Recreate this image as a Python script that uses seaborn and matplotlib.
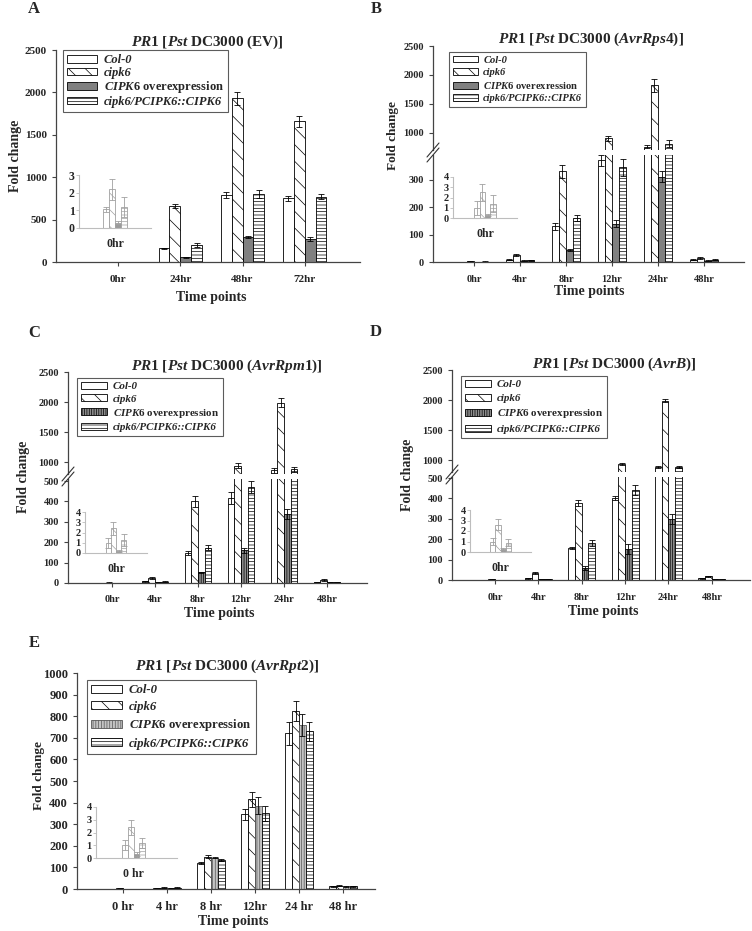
import pandas as pd
import matplotlib
matplotlib.use("Agg")
import matplotlib.pyplot as plt
from matplotlib.patches import Patch
from matplotlib.lines import Line2D
import seaborn as sns

# ---- data ----
lines = ["Col-0", "cipk6", "CIPK6 overexpression", "cipk6/PCIPK6::CIPK6"]
lines_b = ["Col-0", "cipk6", "CIPK6 overexression", "cipk6/PCIPK6::CIPK6"]

# A: Pst DC3000 (EV)
ev_times = ["0hr", "24hr", "48hr", "72hr"]
ev_mean = [[1.05, 160, 790, 750],
           [2.2, 660, 1930, 1660],
           [0.3, 55, 300, 270],
           [1.2, 200, 800, 770]]
ev_err = [[0.15, 8, 30, 30],
          [0.6, 25, 80, 65],
          [0.1, 5, 12, 20],
          [0.55, 22, 50, 30]]

# B: AvrRps4
rps4_times = ["0hr", "4hr", "8hr", "12hr", "24hr", "48hr"]
rps4_mean = [[1.0, 8, 130, 370, 760, 8],
             [2.5, 25, 330, 900, 1820, 15],
             [0.3, 5, 45, 140, 310, 5],
             [1.4, 7, 160, 345, 810, 8]]
rps4_err = [[0.7, 2, 12, 20, 25, 2],
            [0.8, 4, 25, 50, 110, 3],
            [0.1, 1, 4, 12, 20, 1],
            [0.8, 2, 12, 30, 60, 2]]

# C: AvrRpm1
rpm1_times = ["0hr", "4hr", "8hr", "12hr", "24hr", "48hr"]
rpm1_mean = [[1.0, 8, 147, 417, 860, 5],
             [2.4, 25, 400, 940, 1990, 15],
             [0.2, 5, 52, 160, 338, 4],
             [1.3, 6, 172, 470, 880, 4]]
rpm1_err = [[0.5, 2, 12, 30, 40, 1],
            [0.6, 4, 25, 40, 70, 3],
            [0.1, 1, 4, 12, 25, 1],
            [0.6, 2, 12, 30, 40, 1]]

# D: AvrB
avrb_times = ["0hr", "4hr", "8hr", "12hr", "24hr", "48hr"]
avrb_mean = [[1.0, 8, 157, 402, 880, 8],
             [2.6, 35, 377, 940, 1990, 18],
             [0.25, 5, 59, 152, 299, 4],
             [0.9, 5, 181, 441, 880, 3]]
avrb_err = [[0.3, 2, 6, 8, 20, 2],
            [0.5, 5, 15, 15, 20, 3],
            [0.1, 1, 8, 25, 25, 1],
            [0.3, 1, 15, 25, 20, 1]]

# E: AvrRpt2
rpt2_times = ["0 hr", "4 hr", "8 hr", "12hr", "24 hr", "48 hr"]
rpt2_mean = [[1.0, 5, 120, 345, 720, 12],
             [2.4, 6, 150, 415, 825, 15],
             [0.3, 5, 145, 385, 760, 13],
             [1.2, 6, 135, 350, 730, 13]]
rpt2_err = [[0.4, 1, 5, 25, 55, 2],
            [0.6, 1, 8, 35, 45, 2],
            [0.15, 1, 3, 40, 50, 2],
            [0.4, 1, 5, 35, 45, 2]]

# ---- style ----
sns.set_style("ticks")
plt.rcParams["font.family"] = ["Liberation Serif", "DejaVu Serif"]
plt.rcParams["font.weight"] = "bold"
plt.rcParams["axes.labelweight"] = "bold"
plt.rcParams["mathtext.fontset"] = "custom"
plt.rcParams["mathtext.it"] = "Liberation Serif:italic:bold"
plt.rcParams["mathtext.rm"] = "Liberation Serif:bold"
plt.rcParams["mathtext.bf"] = "Liberation Serif:bold"
plt.rcParams["hatch.linewidth"] = 0.5

W, H = 752, 931
fig = plt.figure(figsize=(W / 100, H / 100), dpi=100)
axis_color = "#444444"


def box(l, t, r, b):
    return [l / W, 1 - b / H, (r - l) / W, (b - t) / H]


# (face, edge, hatch) for each line
style_solid = [("white", "black", ""), ("white", "black", "\\\\"),
               ("#808080", "black", ""), ("white", "black", "-----")]
style_vert = [("white", "black", ""), ("white", "black", "\\\\"),
              ("#8c8c8c", "black", "|||||||"), ("white", "black", "-----")]
style_light = [("white", "black", ""), ("white", "black", "\\\\"),
               ("#c4c4c4", "#555555", "||||||"), ("white", "black", "-----")]


def to_frame(times, mean, err):
    rows = []
    for name, m, e in zip(lines, mean, err):
        for t, v, s in zip(times, m, e):
            rows.append((t, name, v, s))
    return pd.DataFrame(rows, columns=["time", "line", "fold", "err"])


def draw_bars(ax, df, times, styles, width, ecol="black", lw=0.6):
    sns.barplot(data=df, x="time", y="fold", hue="line", order=times,
                hue_order=lines, palette=[s[0] for s in styles],
                saturation=1, width=width, errorbar=None, legend=False,
                edgecolor=ecol, linewidth=lw, ax=ax)
    for cont, (fc, ec, hatch), name in zip(ax.containers, styles, lines):
        sub = df[df["line"] == name]
        xs = []
        for p in cont:
            p.set_facecolor(fc)
            p.set_edgecolor(ec if ecol == "black" else ecol)
            p.set_hatch(hatch)
            xs.append(p.get_x() + p.get_width() / 2)
        ax.errorbar(xs, sub["fold"], yerr=sub["err"], fmt="none",
                    ecolor=ecol, elinewidth=0.6, capsize=2, capthick=0.6)
    ax.set_xlabel("")
    ax.set_ylabel("")


def style_axis(ax, xlim, ylim, yticks, fs):
    ax.set_xlim(*xlim)
    ax.set_ylim(*ylim)
    ax.set_yticks(yticks)
    sns.despine(ax=ax)
    for s in ["left", "bottom"]:
        ax.spines[s].set_color(axis_color)
        ax.spines[s].set_linewidth(0.9)
    ax.tick_params(labelsize=fs, length=3, width=0.8, color=axis_color)
    ax.tick_params(axis="x", pad=6)
    ax.set_facecolor("none")


def xlabel(ax, times, y_px, fs=10):
    mid = (len(times) - 1) / 2
    x_px = ax.transData.transform((mid, 0))[0]
    fig.text(x_px / W, 1 - y_px / H, "Time points", ha="center", va="center",
             fontsize=fs, fontweight="bold")


def legend(styles, labels, x_px, y_px, fs, spacing):
    handles = [Patch(facecolor=fc, edgecolor=ec, hatch=h, linewidth=0.6)
               for fc, ec, h in styles]
    labels = [r"$\it{CIPK6}$" + lab[5:] if lab.startswith("CIPK6") else lab
              for lab in labels]
    leg = fig.legend(handles, labels, loc="upper left",
                     bbox_to_anchor=(x_px / W, 1 - y_px / H), fontsize=fs,
                     frameon=True, fancybox=False, edgecolor="#333333",
                     borderaxespad=0, borderpad=0.35, labelspacing=spacing,
                     handlelength=2.4, handleheight=0.6, handletextpad=0.5)
    leg.get_frame().set_linewidth(0.8)
    for i, t in enumerate(leg.get_texts()):
        if i != 2:
            t.set_fontstyle("italic")


def inset(rect, mean, err, styles, label, ymax, xlim=(-1.2, 1.2), fs=7.5):
    ax = fig.add_axes(rect)
    df = to_frame([label], [[m[0]] for m in mean], [[e[0]] for e in err])
    light = [(fc if fc == "white" else "#9a9a9a", ec, h) for fc, ec, h in styles]
    draw_bars(ax, df, [label], light, 0.8, ecol="#a0a0a0", lw=0.6)
    ax.set_xlim(*xlim)
    ax.set_ylim(0, ymax)
    ax.set_yticks(range(ymax + 1))
    sns.despine(ax=ax)
    for s in ["left", "bottom"]:
        ax.spines[s].set_color("#bdbdbd")
        ax.spines[s].set_linewidth(0.8)
    ax.tick_params(axis="y", labelsize=fs, length=2, width=0.6,
                   color="#bdbdbd", pad=1)
    ax.tick_params(axis="x", labelsize=8.5, length=0, pad=7)
    ax.set_facecolor("none")


def title(x_px, y_px, strain, fs=11):
    fig.text(x_px / W, 1 - y_px / H, r"$\it{PR1}$ [$\it{Pst}$ DC3000 (" + strain + ")]",
             ha="center", va="center", fontsize=fs, fontweight="bold")


def ylabel(x_px, y_px, fs=10):
    fig.text(x_px / W, 1 - y_px / H, "Fold change", rotation=90, ha="center",
             va="center", fontsize=fs, fontweight="bold")


def break_marks(x_px, y_px):
    for dy in (-2.5, 2.5):
        fig.add_artist(Line2D([(x_px - 6) / W, (x_px + 6) / W],
                              [1 - (y_px + 7 + dy) / H, 1 - (y_px - 7 + dy) / H],
                              color="#333333", lw=0.8))


def panel_letter(x_px, y_px, s):
    fig.text(x_px / W, 1 - y_px / H, s, ha="center", va="center",
             fontsize=12, fontweight="bold")


def broken_panel(times, mean, err, styles, top_px, gap_px, base_px, left, right,
                 xlim, up_ylim, low_ylim, low_ticks, width=0.62):
    df = to_frame(times, mean, err)
    up = fig.add_axes(box(left, top_px, right, gap_px[0]))
    low = fig.add_axes(box(left, gap_px[1], right, base_px))
    draw_bars(up, df, times, styles, width)
    draw_bars(low, df, times, styles, width)
    style_axis(up, xlim, up_ylim, [1000, 1500, 2000, 2500], 7.5)
    style_axis(low, xlim, low_ylim, low_ticks, 7.5)
    up.spines["bottom"].set_visible(False)
    up.tick_params(axis="x", bottom=False, labelbottom=False)
    break_marks(left, (gap_px[0] + gap_px[1]) / 2)
    return low


# ---- A ----
ax_a = fig.add_axes(box(56, 50, 360, 262))
draw_bars(ax_a, to_frame(ev_times, ev_mean, ev_err), ev_times, style_solid, 0.7)
style_axis(ax_a, (-1.0, 3.89), (0, 2500), range(0, 2501, 500), 8)
xlabel(ax_a, ev_times, 298)
title(207, 42, "EV")
ylabel(16, 156)
legend(style_solid, lines, 63, 50, 9, 0.04)
inset(box(79, 175, 151, 228), ev_mean, ev_err, style_solid, "0hr", 3, fs=8.5)
panel_letter(34, 9, "A")

# ---- B ----
ax_b = broken_panel(rps4_times, rps4_mean, rps4_err, style_solid, 46, (150, 155),
                    262, 433, 744, (-0.89, 5.87), (700, 2500), (0, 390),
                    [0, 100, 200, 300])
xlabel(ax_b, rps4_times, 292)
title(591, 39, r"$\it{AvrRps4}$")
ylabel(393, 135, 9.5)
legend(style_solid, lines_b, 449, 52, 7.6, 0.3)
inset(box(453, 177, 517, 218), rps4_mean, rps4_err, style_solid, "0hr", 4)
panel_letter(376, 9, "B")

# ---- C ----
ax_c = broken_panel(rpm1_times, rpm1_mean, rpm1_err, style_vert, 372, (474, 479),
                    583, 68, 367, (-1.02, 5.93), (800, 2500), (0, 510),
                    range(0, 501, 100))
xlabel(ax_c, rpm1_times, 614)
title(227, 366, r"$\it{AvrRpm1}$")
ylabel(24, 477)
legend(style_vert, lines, 77, 378, 7.9, 0.28)
inset(box(85, 512, 147, 553), rpm1_mean, rpm1_err, style_vert, "0hr", 4)
panel_letter(34, 333, "C")

# ---- D ----
ax_d = broken_panel(avrb_times, avrb_mean, avrb_err, style_vert, 370, (472, 477),
                    580, 452, 750, (-0.99, 5.88), (800, 2500), (0, 505),
                    range(0, 501, 100))
xlabel(ax_d, avrb_times, 612)
title(614, 364, r"$\it{AvrB}$")
ylabel(407, 475)
legend(style_vert, lines, 461, 376, 7.9, 0.4)
inset(box(470, 510, 531, 552), avrb_mean, avrb_err, style_vert, "0hr", 4)
panel_letter(376, 332, "D")

# ---- E ----
ax_e = fig.add_axes(box(77, 673, 375, 889))
draw_bars(ax_e, to_frame(rpt2_times, rpt2_mean, rpt2_err), rpt2_times, style_light, 0.63)
style_axis(ax_e, (-1.05, 5.73), (0, 1000), range(0, 1001, 100), 9)
xlabel(ax_e, rpt2_times, 922)
title(227, 666, r"$\it{AvrRpt2}$")
ylabel(39, 776, 9.5)
legend(style_light, lines, 87, 680, 9.2, 0.35)
inset(box(96, 807, 177, 858), rpt2_mean, rpt2_err, style_light, "0 hr", 4,
      xlim=(-1.3, 1.5))
panel_letter(34, 643, "E")

fig.savefig("out.png", dpi=100)
